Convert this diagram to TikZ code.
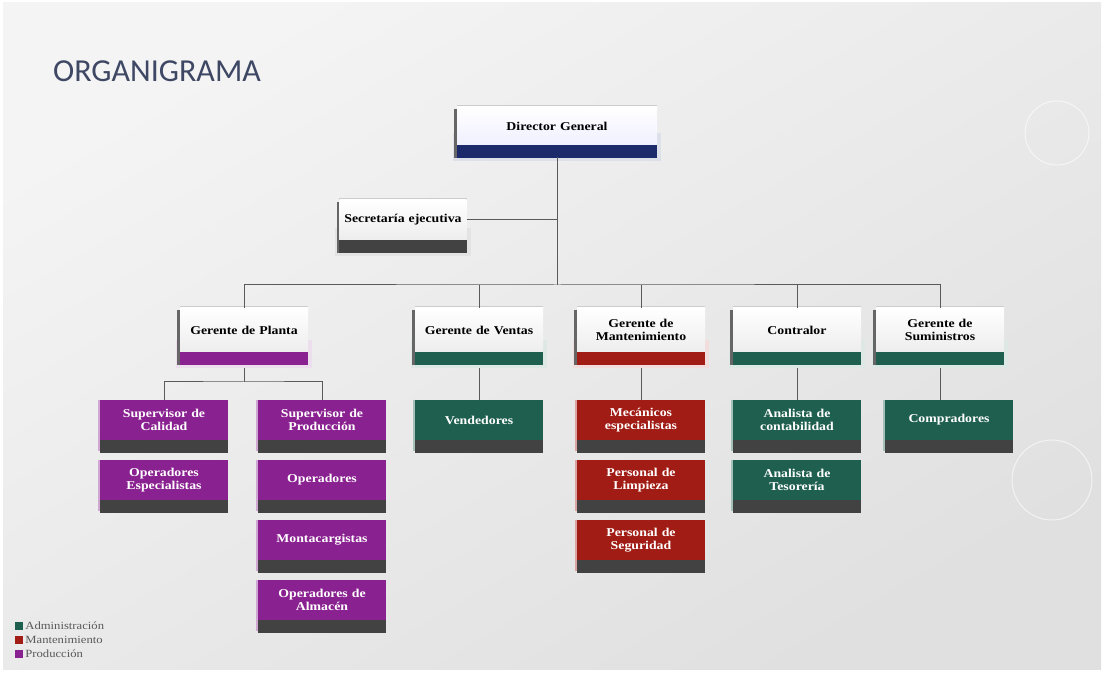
\documentclass[tikz,border=0pt]{standalone}
\usepackage{fontspec}
\setmainfont{Liberation Serif}
\newfontfamily\titlefont{Carlito}
\newfontfamily\boxfont[FakeStretch=1.15]{Liberation Serif}
\usepackage{xcolor}
\definecolor{navy}{HTML}{1C2A6B}
\definecolor{adm}{HTML}{1F5F4F}
\definecolor{mant}{HTML}{A01C14}
\definecolor{prod}{HTML}{8A2190}
\definecolor{barra}{HTML}{424242}
\definecolor{linea}{HTML}{5A5A5A}
\definecolor{titulo}{HTML}{3E4763}
\definecolor{fondoA}{HTML}{F4F4F4}
\definecolor{fondoB}{HTML}{E0E0E0}

\tikzset{
  jefe/.style={top color=white, bottom color=black!7, minimum width=128pt, minimum height=44pt,
    text width=124pt, align=center, inner sep=0pt, font=\boxfont\bfseries\fontsize{12}{13.5}\selectfont,
    append after command={\pgfextra{
      \fill[#1!15] ([xshift=-4pt,yshift=12pt]\tikzlastnode.south west) rectangle ([xshift=4pt,yshift=-16pt]\tikzlastnode.south east);
      \fill[#1] (\tikzlastnode.south west) rectangle ([yshift=-13pt]\tikzlastnode.south east);
      \draw[black!60, line width=2.5pt] ([xshift=-1.25pt,yshift=-2pt]\tikzlastnode.north west) -- ([xshift=-1.25pt,yshift=-13pt]\tikzlastnode.south west);
      \draw[black!20, line width=2pt] ([yshift=1pt]\tikzlastnode.north west) -- ([yshift=1pt]\tikzlastnode.north east);}}},
  unidad/.style={fill=#1, minimum width=128pt, minimum height=40pt, text width=124pt, align=center,
    inner sep=0pt, text=white, font=\boxfont\bfseries\fontsize{12}{13.5}\selectfont,
    append after command={\pgfextra{
      \fill[barra] (\tikzlastnode.south west) rectangle ([yshift=-13pt]\tikzlastnode.south east);
      \draw[#1!40!white, line width=2pt] ([xshift=-1pt]\tikzlastnode.north west) -- ([xshift=-1pt,yshift=-11pt]\tikzlastnode.south west);}}},
  conector/.style={draw=linea, line width=1pt},
  cuadro/.style={minimum size=8pt, inner sep=0pt},
  leyenda/.style={anchor=west, inner sep=2pt, text=black!65, font=\boxfont\fontsize{11}{12}\selectfont}
}

\begin{document}
\begin{tikzpicture}[x=1pt,y=-1pt]
        \useasboundingbox (0,0) rectangle (1104,676);
        \fill[white] (0,0) rectangle (1104,676);
        \shade[top color=fondoA, bottom color=fondoB, shading angle=30] (3,3) rectangle (1101,669);
        \draw[white, opacity=.6, line width=1pt] (1057,133) circle (32);
        \draw[white, opacity=.6, line width=1pt] (1052,480) circle (40);

        \node[anchor=base west, inner sep=0pt, text=titulo, font=\titlefont\fontsize{32}{36}\selectfont] (tit) at (53,82) {ORGANIGRAMA};

        \node[jefe=navy, top color=white, bottom color=blue!6, minimum width=200pt, text width=190pt, minimum height=38pt] (dir) at (557,126) {Director General};
        \node[jefe=barra, minimum width=127pt, minimum height=40pt] (sec) at (403,220) {Secretaría ejecutiva};

        \node[jefe=prod] (gp) at (244,330) {Gerente de Planta};
        \node[jefe=adm] (gv) at (479,330) {Gerente de Ventas};
        \node[jefe=mant] (gm) at (641,330) {Gerente de\\Mantenimiento};
        \node[jefe=adm] (co) at (797,330) {Contralor};
        \node[jefe=adm] (gs) at (940,330) {Gerente de\\Suministros};

        \node[unidad=prod] (sc) at (164,420) {Supervisor de\\Calidad};
        \node[unidad=prod] (oe) at (164,480) {Operadores\\Especialistas};
        \node[unidad=prod] (sp) at (322,420) {Supervisor de\\Producción};
        \node[unidad=prod] (op) at (322,480) {Operadores};
        \node[unidad=prod] (mc) at (322,540) {Montacargistas};
        \node[unidad=prod] (oa) at (322,600) {Operadores de\\Almacén};

        \node[unidad=adm] (ve) at (479,420) {Vendedores};

        \node[unidad=mant] (me) at (641,420) {Mecánicos\\especialistas};
        \node[unidad=mant] (pl) at (641,480) {Personal de\\Limpieza};
        \node[unidad=mant] (ps) at (641,540) {Personal de\\Seguridad};

        \node[unidad=adm] (ac) at (797,420) {Analista de\\contabilidad};
        \node[unidad=adm] (at) at (797,480) {Analista de\\Tesorería};

        \node[unidad=adm] (cp) at (949,420) {Compradores};

        \coordinate (bus) at (557,285);
        \coordinate (rp) at (244,382);
        \draw[conector] ([yshift=-12pt]dir.south) -- (bus);
        \draw[conector] (sec.east) -- (sec.east -| bus);
        \draw[conector] (gp.north) |- (bus) -| (gs.north);
        \draw[conector] (gv.north) -- (gv.north |- bus);
        \draw[conector] (gm.north) -- (gm.north |- bus);
        \draw[conector] (co.north) -- (co.north |- bus);
        \draw[conector] ([yshift=-16pt]gp.south) -- (rp);
        \draw[conector] (sc.north) |- (rp) -| (sp.north);
        \draw[conector] ([yshift=-16pt]gv.south) -- (ve.north);
        \draw[conector] ([yshift=-16pt]gm.south) -- (me.north);
        \draw[conector] ([yshift=-16pt]co.south) -- (ac.north);
        \draw[conector] ([yshift=-16pt]gs.south) -- (gs.south |- cp.north);

        \node[cuadro, fill=adm] (la) at (19,626) {};
        \node[cuadro, fill=mant] (lm) at (19,640) {};
        \node[cuadro, fill=prod] (lp) at (19,654) {};
        \node[leyenda] at (la.east) {Administración};
        \node[leyenda] at (lm.east) {Mantenimiento};
        \node[leyenda] at (lp.east) {Producción};
        \end{tikzpicture}
\end{document}
